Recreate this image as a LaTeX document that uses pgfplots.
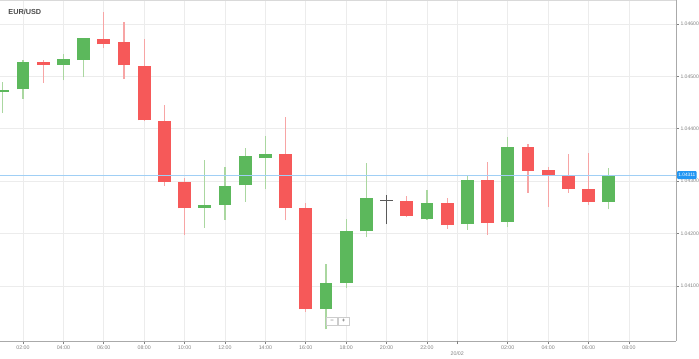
\documentclass[border=0pt]{standalone}
\usepackage{pgfplots}
\pgfplotsset{compat=1.18}
\usepackage{pgfplotstable}
\usepackage{fontspec}
\setmainfont{Liberation Sans}
\setsansfont{Liberation Sans}
\definecolor{cgreen}{RGB}{92,184,92}
\definecolor{cred}{RGB}{246,89,89}
\definecolor{wgreen}{RGB}{170,215,160}
\definecolor{wred}{RGB}{247,165,165}
\definecolor{doji}{RGB}{90,90,90}
\definecolor{pricelinecolor}{RGB}{160,207,245}
\definecolor{pbox}{RGB}{33,150,243}
\definecolor{tickc}{RGB}{130,130,130}
\definecolor{gridc}{RGB}{236,236,236}
\definecolor{axisc}{RGB}{170,170,170}

% x o h l c
\pgfplotstableread{
x o h l c
1 1.04470 1.04490 1.04430 1.04475
2 1.04475 1.04531 1.04457 1.04527
4 1.04522 1.04542 1.04493 1.04533
5 1.04531 1.04574 1.04498 1.04573
11 1.04249 1.04341 1.04211 1.04254
12 1.04255 1.04328 1.04226 1.04290
13 1.04292 1.04363 1.04261 1.04349
14 1.04344 1.04387 1.04285 1.04351
17 1.04056 1.04142 1.04017 1.04106
18 1.04106 1.04228 1.04096 1.04205
19 1.04204 1.04334 1.04193 1.04267
22 1.04227 1.04283 1.04226 1.04259
24 1.04218 1.04310 1.04207 1.04302
26 1.04223 1.04385 1.04212 1.04365
31 1.04260 1.04326 1.04246 1.04311
}\greendata

\pgfplotstableread{
x o h l c
3 1.04528 1.04531 1.04487 1.04522
6 1.04572 1.04623 1.04554 1.04561
7 1.04566 1.04604 1.04495 1.04521
8 1.04520 1.04571 1.04414 1.04416
9 1.04414 1.04445 1.04291 1.04299
10 1.04299 1.04306 1.04197 1.04248
15 1.04351 1.04423 1.04225 1.04249
16 1.04248 1.04258 1.04051 1.04056
21 1.04262 1.04272 1.04231 1.04234
23 1.04259 1.04267 1.04209 1.04216
25 1.04302 1.04336 1.04197 1.04221
27 1.04366 1.04371 1.04278 1.04320
28 1.04321 1.04327 1.04251 1.04312
29 1.04311 1.04352 1.04278 1.04285
30 1.04286 1.04353 1.04255 1.04260
}\reddata

\pgfplotstableread{
x o h l c
20 1.04263 1.04274 1.04218 1.04263
}\dojidata

\begin{document}
\begin{tikzpicture}
\begin{axis}[
  at={(0,0)}, anchor=north west,
  scale only axis, width=676bp, height=341bp,
  xmin=0.861, xmax=34.33, ymin=1.03995, ymax=1.046458,
  clip=false,
  axis x line*=bottom, axis y line*=right,
  axis line style={draw=axisc, line width=0.8bp},
  xtick={2,4,6,8,10,12,14,16,18,20,22,26,28,30,32},
  xticklabels={02:00,04:00,06:00,08:00,10:00,12:00,14:00,16:00,18:00,20:00,22:00,02:00,04:00,06:00,08:00},
  extra x ticks={23.5},
  extra x tick labels={20/02},
  extra x tick style={xticklabel style={yshift=-5.5bp}, major tick style={dashed, draw=tickc}},
  ytick={1.041,1.042,1.043,1.044,1.045,1.046},
  yticklabels={1.04100,1.04200,1.04300,1.04400,1.04500,1.04600},
  grid=major,
  major grid style={draw=gridc, line width=0.7bp},
  tick style={draw=tickc, line width=0.6bp},
  major tick length=3bp, tick align=outside,
  xticklabel style={font=\fontsize{5.3}{6}\selectfont, text=tickc, inner sep=1.5bp},
  yticklabel style={font=\fontsize{5.1}{6}\selectfont, text=tickc, inner sep=1bp, xshift=0.3bp},
]
% wicks
\addplot[draw=none, forget plot, error bars/.cd, y dir=plus, y explicit, error mark=none,
  error bar style={draw=wgreen, line width=1.2bp}]
  table[x=x, y=l, y error expr=\thisrow{h}-\thisrow{l}] {\greendata};
\addplot[draw=none, forget plot, error bars/.cd, y dir=plus, y explicit, error mark=none,
  error bar style={draw=wred, line width=1.2bp}]
  table[x=x, y=l, y error expr=\thisrow{h}-\thisrow{l}] {\reddata};
\addplot[draw=none, forget plot, error bars/.cd, y dir=plus, y explicit, error mark=none,
  error bar style={draw=doji, line width=1bp}]
  table[x=x, y=l, y error expr=\thisrow{h}-\thisrow{l}] {\dojidata};
% bodies
\addplot[draw=none, forget plot, error bars/.cd, y dir=plus, y explicit, error mark=none,
  error bar style={draw=cgreen, line width=12.7bp}]
  table[x=x, y=o, y error expr=\thisrow{c}-\thisrow{o}] {\greendata};
\addplot[draw=none, forget plot, error bars/.cd, y dir=plus, y explicit, error mark=none,
  error bar style={draw=cred, line width=12.7bp}]
  table[x=x, y=c, y error expr=\thisrow{o}-\thisrow{c}] {\reddata};
\addplot[only marks, mark=-, mark size=6.35bp, mark options={draw=doji, line width=1bp}, forget plot]
  table[x=x, y=o] {\dojidata};
\end{axis}
% current price reference line (1.04311)
\draw[draw=pricelinecolor, line width=1.3bp] (0,-175.2bp) -- (676bp,-175.2bp);
\draw[draw=black!15, line width=0.8bp] (0,0) -- (676bp,0);
\node[anchor=west, font=\bfseries\fontsize{7.3}{8}\selectfont, text=black!70, inner sep=0] at (8.3bp,-12bp) {EUR/USD};
\node[fill=pbox, rounded corners=1bp, text=white, font=\fontsize{4.8}{5}\selectfont, inner sep=1.2bp, anchor=west, minimum height=8bp] at (677bp,-175bp) {1.04311};
\node[draw=black!20, fill=white, minimum width=11bp, minimum height=8.5bp, inner sep=0, font=\fontsize{6}{6}\selectfont, text=black!70] at (332bp,-321bp) {−};
\node[draw=black!20, fill=white, minimum width=11bp, minimum height=8.5bp, inner sep=0, font=\fontsize{6}{6}\selectfont, text=black!70] at (343.5bp,-321bp) {+};
\pgfresetboundingbox
\path[use as bounding box] (0,0) rectangle (699bp,-359bp);
\end{tikzpicture}
\end{document}
